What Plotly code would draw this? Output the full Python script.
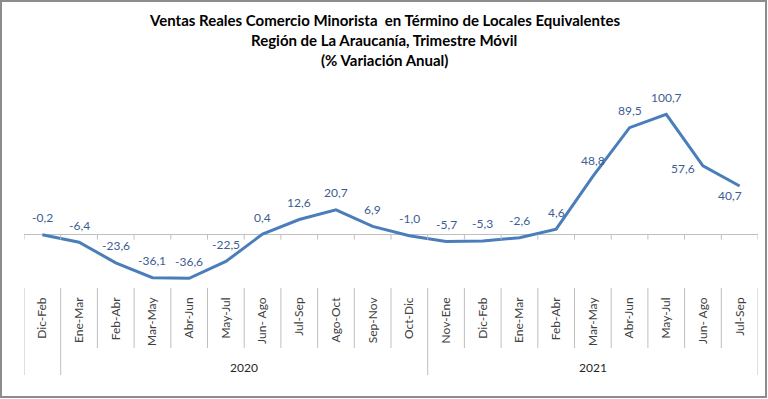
import plotly.graph_objects as go

categories = ["Dic-Feb", "Ene-Mar", "Feb-Abr", "Mar-May", "Abr-Jun", "May-Jul", "Jun- Ago",
              "Jul-Sep", "Ago-Oct", "Sep-Nov", "Oct-Dic", "Nov-Ene", "Dic-Feb", "Ene-Mar",
              "Feb-Abr", "Mar-May", "Abr-Jun", "May-Jul", "Jun- Ago", "Jul-Sep"]
values = [-0.2, -6.4, -23.6, -36.1, -36.6, -22.5, 0.4, 12.6, 20.7, 6.9, -1.0, -5.7, -5.3,
          -2.6, 4.6, 48.8, 89.5, 100.7, 57.6, 40.7]
years = ["2020", "2021"]
year_spans = [(1, 10), (11, 19)]  # index ranges of categories for each year
title_lines = ["Ventas Reales Comercio Minorista  en Término de Locales Equivalentes",
               "Región de La Araucanía, Trimestre Móvil",
               "(% Variación Anual)"]

W, H = 768, 399
L, R, T, B = 24, 758, 85, 288
pw, ph = R - L, B - T

def px_x(p):
    return (p - L) / pw

def px_y(p):
    return (B - p) / ph

FONT = "Lato, Open Sans, sans-serif"
LINE_COLOR = "#4A7EBB"
LABEL_COLOR = "#3D5D94"

idx = list(range(len(categories)))
labels = [f"{v:.1f}".replace(".", ",") for v in values]
# label offsets in pixels (style only)
shifts = [(0, 17)] * len(values)
shifts[15] = (0, 16)
shifts[18] = (-20, -3)
shifts[19] = (-10, -10)

fig = go.Figure()
fig.add_trace(go.Scatter(
    x=idx, y=values, mode="lines",
    line=dict(color=LINE_COLOR, width=3),
    cliponaxis=False, hoverinfo="skip", showlegend=False,
))

shapes = []
# outer border
shapes.append(dict(type="rect", xref="paper", yref="paper",
                   x0=px_x(1), x1=px_x(766), y0=px_y(397), y1=px_y(1),
                   line=dict(color="#8C8C8C", width=2), fillcolor="rgba(0,0,0,0)", layer="below"))
# category boundaries
group_bounds = {-0.5, 0.5, 10.5, 19.5}
for i in range(len(categories) + 1):
    xb = i - 0.5
    shapes.append(dict(type="line", xref="x", yref="y", ysizemode="pixel", yanchor=0,
                       x0=xb, x1=xb, y0=0, y1=-5, line=dict(color="#BFBFBF", width=1)))
    yend = px_y(375) if xb in group_bounds else px_y(348)
    shapes.append(dict(type="line", xref="x", yref="paper", x0=xb, x1=xb,
                       y0=0, y1=yend, line=dict(color="#BFBFBF", width=1)))

annotations = []
for xi, v, lab, (dx, dy) in zip(idx, values, labels, shifts):
    annotations.append(dict(text=lab, xref="x", yref="y", x=xi, y=v, showarrow=False,
                            xanchor="center", yanchor="middle", xshift=dx, yshift=dy,
                            font=dict(family=FONT, size=12, color=LABEL_COLOR)))
for yr, (a, b) in zip(years, year_spans):
    annotations.append(dict(text=yr, xref="x", yref="paper", x=(a + b) / 2, y=px_y(367),
                            showarrow=False, xanchor="center", yanchor="middle",
                            font=dict(family=FONT, size=12, color="#262626")))
for line, ypx in zip(title_lines, [20, 40, 60]):
    annotations.append(dict(text=f"<b>{line}</b>", xref="paper", yref="paper",
                            x=px_x(384), y=px_y(ypx), showarrow=False,
                            xanchor="center", yanchor="middle",
                            font=dict(family=FONT, size=15, color="#000000")))

ymin = -(B - 234.6) / 1.1945
ymax = (234.6 - T) / 1.1945

fig.update_layout(
    width=W, height=H,
    margin=dict(l=L, r=W - R, t=T, b=H - B, pad=0),
    paper_bgcolor="white", plot_bgcolor="white",
    xaxis=dict(range=[-0.5, len(categories) - 0.5], tickmode="array", tickvals=idx,
               ticktext=categories, tickangle=-90, ticks="", showgrid=False,
               zeroline=False, showline=False, ticklabelstandoff=6,
               tickfont=dict(family=FONT, size=12, color="#404040")),
    yaxis=dict(range=[ymin, ymax], showticklabels=False, showgrid=False,
               zeroline=True, zerolinecolor="#BFBFBF", zerolinewidth=1, showline=False),
    shapes=shapes, annotations=annotations,
)

fig.write_html("out.html", config={"displayModeBar": False},
               post_script="document.body.style.margin='0';document.body.style.overflow='hidden';")
